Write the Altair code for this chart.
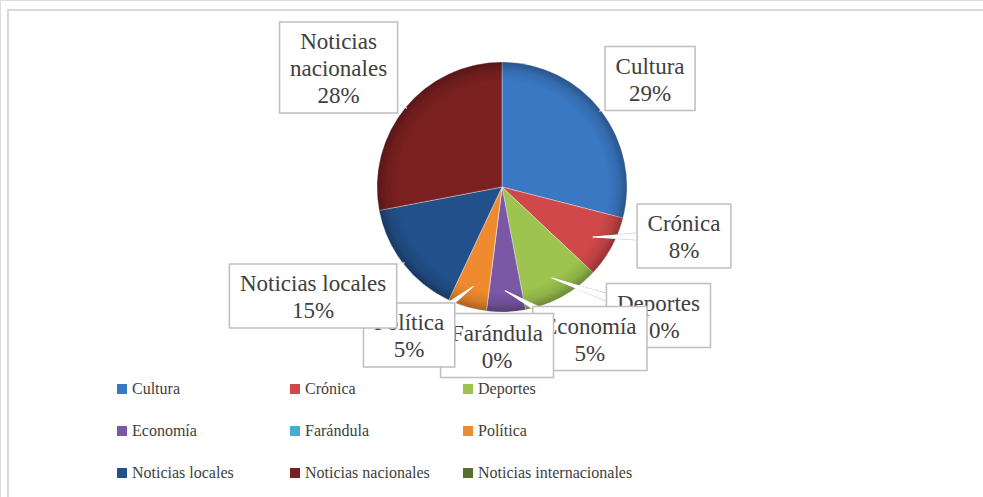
import math
import altair as alt
import pandas as pd

# ---------------- data ----------------
CATEGORIES = ["Cultura", "Crónica", "Deportes", "Economía", "Farándula",
              "Política", "Noticias locales", "Noticias nacionales",
              "Noticias internacionales"]
PERCENTS = [29, 8, 10, 5, 0, 5, 15, 28, None]
COLORS = ["#3b78c4", "#d0484a", "#9cc44e", "#7a58a6", "#3fb2cf",
          "#f08a2e", "#22508a", "#7a2020", "#55702c"]

# ---------------- layout (styling only) ----------------
CX, CY, R = 502, 187, 125
FONT = "Liberation Serif"
FS = 23
LH = 27
TEXT_COLOR = "#404040"
# label placement: (distance from centre, angular shift from slice middle, degrees)
LABEL_PLACE = {
    "Cultura": (183.5, 1.6),
    "Crónica": (188.5, -13.7),
    "Deportes": (202.5, -21.8),
    "Economía": (175.2, -28.3),
    "Farándula": (158.6, -5.4),
    "Política": (174.8, 15.9),
    "Noticias locales": (218.2, 7.8),
    "Noticias nacionales": (202.5, -3.4),
}
WRAP = {"Noticias nacionales"}

CW = {' ': 250, '%': 833, 'a': 444, 'á': 444, 'b': 500, 'c': 444, 'd': 500,
      'e': 444, 'f': 333, 'i': 278, 'í': 278, 'l': 278, 'm': 778, 'n': 500,
      'o': 500, 'ó': 500, 'p': 500, 'r': 333, 's': 389, 't': 278, 'u': 500,
      'C': 667, 'D': 722, 'E': 611, 'F': 556, 'N': 722, 'P': 556}


def text_w(s):
    return sum(CW.get(ch, 500) for ch in s) * FS / 1000.0


# ---------------- pie ----------------
pie_df = pd.DataFrame({"category": CATEGORIES, "value": PERCENTS,
                       "idx": list(range(len(CATEGORIES)))})
pie_df = pie_df[pie_df["value"].notna()]

color_scale = alt.Scale(domain=CATEGORIES, range=COLORS)

pie = alt.Chart(pie_df).mark_arc(
    radius=R, stroke="#ffffff", strokeWidth=1, strokeOpacity=0.35
).encode(
    theta=alt.Theta("value:Q", stack=True),
    order=alt.Order("idx:Q"),
    color=alt.Color("category:N", scale=color_scale, legend=alt.Legend(
        title=None, orient="none", legendX=114, legendY=381, columns=3,
        direction="horizontal",
        symbolType="square", symbolSize=100, symbolStrokeWidth=0,
        labelFont=FONT, labelFontSize=16, labelColor=TEXT_COLOR,
        labelOffset=2, labelLimit=400, gridAlign="all",
        columnPadding=0, rowPadding=26, padding=0)),
    x=alt.value(CX), y=alt.value(CY),
)

rim = alt.Chart(pd.DataFrame({"k": [0]})).mark_arc(
    radius=R, theta=0, theta2=2 * math.pi,
    fill=alt.Gradient(
        gradient="radial",
        stops=[alt.GradientStop(color="rgba(0,0,0,0)", offset=0),
               alt.GradientStop(color="rgba(0,0,0,0)", offset=0.84),
               alt.GradientStop(color="rgba(0,0,0,0.10)", offset=0.93),
               alt.GradientStop(color="rgba(0,0,0,0.30)", offset=1)],
        x1=0.5, y1=0.5, x2=0.5, y2=0.5, r1=0, r2=0.5),
).encode(x=alt.value(CX), y=alt.value(CY))

frame = alt.Chart(pd.DataFrame({"k": [0]})).mark_rect(
    fill="#ffffff", fillOpacity=0, stroke="#d9d9d9", strokeWidth=2
).encode(x=alt.value(8), x2=alt.value(1200), y=alt.value(10), y2=alt.value(700))

layers = [frame, pie, rim]

# ---------------- callout labels ----------------
total = sum(v for v in PERCENTS if v is not None)
cum = 0.0
for cat, val in zip(CATEGORIES, PERCENTS):
    if val is None:
        continue
    start = cum / total * 360.0
    cum += val
    end = cum / total * 360.0
    mid = (start + end) / 2.0
    if cat not in LABEL_PLACE:
        continue
    dist, shift = LABEL_PLACE[cat]
    a = math.radians(mid + shift)
    bx = CX + dist * math.sin(a)
    by = CY - dist * math.cos(a)
    lines = (cat.split(" ") if cat in WRAP else [cat]) + [f"{val:.0f}%"]
    bw = max(text_w(s) for s in lines) + 21
    bh = LH * len(lines) + 10
    top = by - bh / 2.0

    if val > 0:
        am = math.radians(mid)
        tr = 0.99 * R if val >= 12 else 0.83 * R
        tx = CX + tr * math.sin(am)
        ty = CY - tr * math.cos(am)
        tail = pd.DataFrame({"x": [tx, bx], "y": [ty, by], "k": [0, 1],
                             "wo": [0.5, 16], "wi": [0, 13]})
        base = alt.Chart(tail).encode(
            x=alt.X("x:Q", scale=None, axis=None),
            y=alt.Y("y:Q", scale=None, axis=None),
            order=alt.Order("k:Q"))
        layers.append(base.mark_trail(color="#bfbfbf").encode(
            size=alt.Size("wo:Q", scale=None, legend=None)))
        layers.append(base.mark_trail(color="#ffffff").encode(
            size=alt.Size("wi:Q", scale=None, legend=None)))

    box = pd.DataFrame({"x": [bx - bw / 2], "x2": [bx + bw / 2],
                        "y": [top], "y2": [top + bh]})
    layers.append(alt.Chart(box).mark_rect(
        fill="#ffffff", stroke="#bfbfbf", strokeWidth=1.5
    ).encode(x=alt.X("x:Q", scale=None, axis=None), x2="x2:Q",
             y=alt.Y("y:Q", scale=None, axis=None), y2="y2:Q"))

    txt = pd.DataFrame({"x": [bx], "y": [top + 27], "t": ["\n".join(lines)]})
    layers.append(alt.Chart(txt).mark_text(
        font=FONT, fontSize=FS, color=TEXT_COLOR, align="center",
        baseline="alphabetic", lineHeight=LH, lineBreak="\n"
    ).encode(x=alt.X("x:Q", scale=None, axis=None),
             y=alt.Y("y:Q", scale=None, axis=None), text="t:N"))

chart = alt.layer(*layers).properties(
    width=983, height=497, padding=0,
    autosize=alt.AutoSizeParams(type="none"),
).configure_view(stroke=None).configure(font=FONT).resolve_scale(size="independent")

chart.save("out.html", embed_options={"renderer": "svg", "actions": False})
